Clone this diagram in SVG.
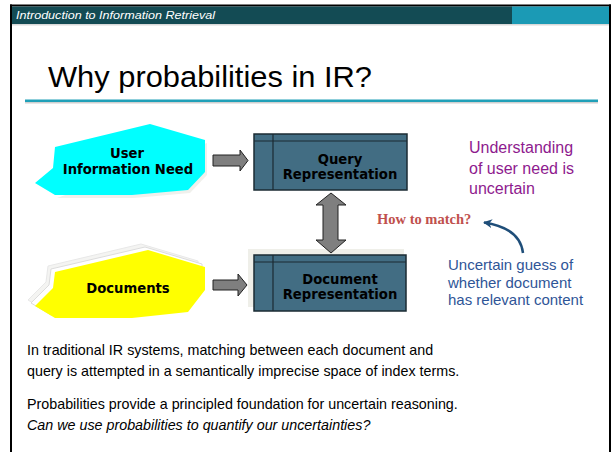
<svg xmlns="http://www.w3.org/2000/svg" width="612" height="452" viewBox="0 0 612 452">
<style>
.box{fill:#426d83;stroke:#1b2b33;stroke-width:1.5}
.boxline{stroke:#1b2b33;stroke-width:1.2;fill:none}
.lbl{font-family:"DejaVu Sans",Verdana,sans-serif;font-weight:bold;font-size:13.2px;fill:#000;text-anchor:middle}
.arr{fill:#7f7f7f;stroke:#222;stroke-width:1}
.body{font-family:"Liberation Sans",Arial,sans-serif;font-size:14.3px;fill:#000}
</style>
<defs>
<marker id="bluehead" viewBox="0 0 10 10" refX="9" refY="5" markerWidth="9" markerHeight="9" orient="auto" markerUnits="userSpaceOnUse">
<path d="M0,0 L10,5 L0,10 L3,5 Z" fill="#1f4e79"/>
</marker>
</defs>
<rect x="0" y="0" width="612" height="452" fill="#fff"/>
<g id="frame">
<rect x="10" y="4.5" width="601" height="2" fill="#000"/>
<rect x="10" y="4.5" width="2" height="448" fill="#000"/>
<rect x="609" y="4.5" width="2" height="448" fill="#000"/>
<rect x="12" y="6.5" width="500" height="17.5" fill="#134b54"/>
<rect x="512" y="6.5" width="97" height="17.5" fill="#1b9ab5"/>
<rect x="12" y="24" width="597" height="1.5" fill="#d9d9d9"/>
<text x="16" y="19" font-family="'Liberation Sans',Arial,sans-serif" font-style="italic" font-size="11" fill="#fff" textLength="199" lengthAdjust="spacingAndGlyphs">Introduction to Information Retrieval</text>
</g>
<g id="title">
<text x="48" y="87" font-family="'Liberation Sans',Arial,sans-serif" font-size="29" fill="#000" textLength="324" lengthAdjust="spacingAndGlyphs">Why probabilities in IR?</text>
<rect x="25" y="101.5" width="573" height="2" fill="#d0d0d0"/>
<rect x="25" y="99.5" width="573" height="2.5" fill="#20a0b8"/>
</g>
<g id="user-need">
<polygon points="57,198 134,198 190,193 207,175 207,143" fill="#e6e6e0" opacity="0.6"/>
<polygon points="55,147 150,124 205,140 205,172 188,190 132,195 55,195 35,183 53,168" fill="#00ffff"/>
<text class="lbl" x="127" y="158">User</text>
<text class="lbl" x="128" y="174">Information Need</text>
</g>
<g id="documents">
<polygon points="48,266 141,244 198,261 198,284 181,306 125,312 48,312 28,300 46,282" fill="#f4f4f2" stroke="#e8e8e8" stroke-width="1"/>
<polygon points="51,269 145,247 202,264 202,287 185,309 129,315 51,315 31,303 49,285" fill="#fff" stroke="#dcdcdc" stroke-width="1"/>
<polygon points="55,272 148,250 205,267 205,290 188,312 132,318 55,318 35,306 53,288" fill="#ffff00"/>
<text class="lbl" x="128" y="293">Documents</text>
</g>
<g id="query-rep">
<rect x="254" y="134" width="153" height="56" class="box"/>
<line x1="254" y1="141" x2="407" y2="141" class="boxline"/>
<line x1="273" y1="134" x2="273" y2="190" class="boxline"/>
<text class="lbl" x="340" y="164">Query</text>
<text class="lbl" x="340" y="179">Representation</text>
</g>
<g id="doc-rep">
<rect x="248" y="249" width="156" height="58" fill="#efefe9"/>
<rect x="254" y="255" width="152" height="56" class="box"/>
<line x1="254" y1="262" x2="406" y2="262" class="boxline"/>
<line x1="273" y1="255" x2="273" y2="311" class="boxline"/>
<text class="lbl" x="340" y="284">Document</text>
<text class="lbl" x="340" y="299">Representation</text>
</g>
<g id="notes">
<g font-family="'Liberation Sans',Arial,sans-serif" font-size="16" fill="#8e1a8e">
<text x="469" y="153">Understanding</text>
<text x="469" y="174">of user need is</text>
<text x="469" y="194">uncertain</text>
</g>
<text x="377" y="224" font-family="'Liberation Serif','Times New Roman',serif" font-weight="bold" font-size="14.5" fill="#c0504d">How to match?</text>
<g font-family="'Liberation Sans',Arial,sans-serif" font-size="15" fill="#2f5597">
<text x="448" y="270">Uncertain guess of</text>
<text x="448" y="288">whether document</text>
<text x="448" y="305">has relevant content</text>
</g>
</g>
<g id="connectors">
<polygon class="arr" points="213,155 240,155 240,150 248,160.5 240,171 240,166 213,166"/>
<polygon class="arr" points="213,280 238,280 238,274 247,285 238,296 238,290 213,290"/>
<polygon class="arr" points="331,193 346,205 338,205 338,240 346,240 331,253 316,240 323,240 323,205 316,205"/>
<path d="M523,253 C521,236 507,226 484,222.5" fill="none" stroke="#1f4e79" stroke-width="2.5" marker-end="url(#bluehead)"/>
</g>
<g id="body-text">
<text class="body" x="27" y="355">In traditional IR systems, matching between each document and</text>
<text class="body" x="27" y="376">query is attempted in a semantically imprecise space of index terms.</text>
<text class="body" x="27" y="409">Probabilities provide a principled foundation for uncertain reasoning.</text>
<text class="body" x="27" y="430" font-style="italic">Can we use probabilities to quantify our uncertainties?</text>
</g>
</svg>
